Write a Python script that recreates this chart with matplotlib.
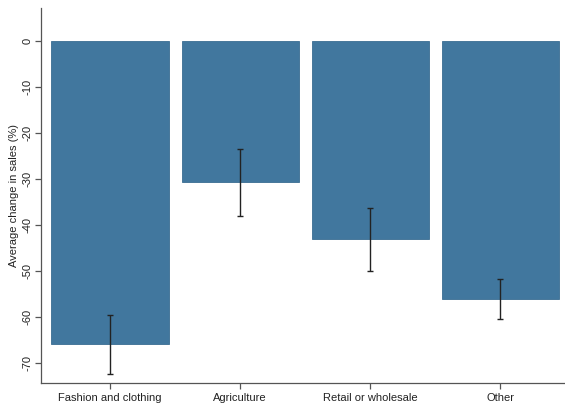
import matplotlib.pyplot as plt
import numpy as np

plt.rcParams['font.family'] = ['Liberation Sans', 'DejaVu Sans']

sectors = ['Fashion and clothing', 'Agriculture', 'Retail or wholesale', 'Other']
mean_change = [-65.9, -30.7, -43.2, -56.1]
ci_upper = [-59.6, -23.6, -36.4, -51.9]
ci_lower = [-72.4, -38.1, -50.1, -60.6]
yticks = [0, -10, -20, -30, -40, -50, -60, -70]

mean_change = np.array(mean_change)
err = [mean_change - np.array(ci_lower), np.array(ci_upper) - mean_change]

fig = plt.figure(figsize=(5.65, 4.12), dpi=100)
ax = fig.add_axes([0.0726, 0.071, 0.935, 0.909])
xpos = np.arange(len(sectors))
ax.bar(xpos, mean_change, width=0.9, color='#41779e', edgecolor='#3a6d92', linewidth=0.6)
ax.errorbar(xpos, mean_change, yerr=err, fmt='none', ecolor='#222222',
            elinewidth=1.0, capsize=2.5, capthick=1.0)

ax.set_xlim(-0.53, 3.53)
ax.set_ylim(-74.4, 7.1)
ax.set_xticks(xpos)
ax.set_xticklabels(sectors, fontsize=8, color='#222222')
ax.set_yticks(yticks)
ax.set_yticklabels([str(t) for t in yticks], fontsize=8, color='#222222',
                   rotation=90, va='center')
ax.set_ylabel('Average change in sales (%)', fontsize=8, color='#222222', labelpad=3)

for side in ['top', 'right']:
    ax.spines[side].set_visible(False)
for side in ['left', 'bottom']:
    ax.spines[side].set_color('#555555')
    ax.spines[side].set_linewidth(0.9)
ax.tick_params(axis='both', colors='#555555', length=4, width=0.9, labelcolor='#222222')
ax.tick_params(axis='y', pad=2)

fig.savefig('out.png', dpi=100)
